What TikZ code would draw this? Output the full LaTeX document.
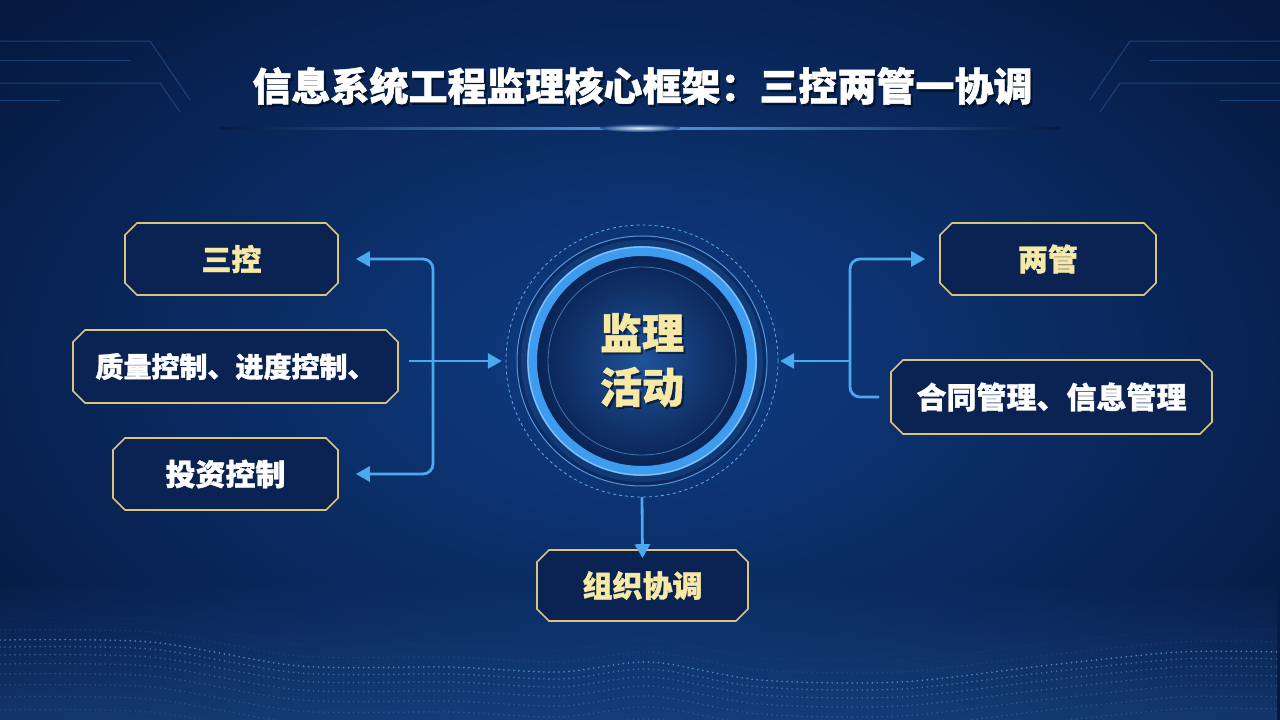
\documentclass[tikz,border=0pt]{standalone}
\usepackage{fontspec}
\setmainfont{Noto Sans CJK SC}[BoldFeatures={FakeBold=1.2}]
\usetikzlibrary{shapes.misc,arrows.meta,calc,fadings}
\definecolor{bgC}{HTML}{0F3D84}
\definecolor{bgE}{HTML}{061940}
\definecolor{gold}{HTML}{DCC47C}
\definecolor{boxfill}{HTML}{0A2353}
\definecolor{yel}{HTML}{F7E8A6}
\definecolor{arrblue}{HTML}{4BA9EF}
\definecolor{ringblue}{HTML}{3D9CF0}
\definecolor{thinblue}{HTML}{5FAAEE}
\definecolor{deco}{HTML}{2E6FC0}
\begin{document}
\begin{tikzpicture}[x=1pt,y=-1pt,
  box/.style={chamfered rectangle, chamfered rectangle xsep=6pt, chamfered rectangle ysep=6pt,
    draw=gold, line width=1.6pt, fill=boxfill, inner sep=0pt,
    font=\bfseries\fontsize{30}{36}\selectfont},
  ybox/.style={box, text=yel},
  wbox/.style={box, text=white},
  arr/.style={draw=arrblue, line width=2.8pt, -{Triangle[width=15pt,length=14pt]}},
  lin/.style={draw=arrblue, line width=2.8pt},
  decoline/.style={draw=deco, line width=1pt, opacity=0.45},
  dotrow/.style={draw=thinblue, line width=1.8pt, line cap=round, dash pattern=on 0.01pt off 5pt}
]
% background
\useasboundingbox (0,0) rectangle (1280,720);
\shade[inner color=bgC, outer color=bgE] (-200,-150) rectangle (1480,870);
% bottom haze
\fill[deco, path fading=north, opacity=0.35] (0,580) rectangle (1280,720);
% bottom dotted wave surface
\foreach \s/\o in {0/0.75, 7/0.5, 15/0.42, 24/0.36, 34/0.3, 45/0.26, 57/0.22, 70/0.18}{
  \draw[dotrow, opacity=\o, yshift=-\s pt] plot[smooth] coordinates {(0,640) (150,642) (300,666) (450,667) (560,672) (650,662) (760,680) (900,682) (1050,665) (1180,652) (1280,652)};
}
\foreach \s/\o in {-10/0.15, -22/0.08}{
  \draw[dotrow, opacity=\o, yshift=-\s pt] plot[smooth] coordinates {(0,640) (150,642) (300,666) (450,667) (560,672) (650,662) (760,680) (900,682) (1050,665) (1180,652) (1280,652)};
}
% top corner decoration
\draw[decoline] (0,41) -- (150,41) -- (190,100);
\draw[decoline] (0,60) -- (130,60);
\draw[decoline] (0,83) -- (160,83) -- (180,112);
\draw[decoline] (0,100) -- (60,100);
\draw[decoline] (1280,41) -- (1130,41) -- (1090,100);
\draw[decoline] (1280,60) -- (1150,60);
\draw[decoline] (1280,83) -- (1120,83) -- (1100,112);
\draw[decoline] (1280,100) -- (1220,100);
% title glow line
\shade[left color=bgE, right color=bgE, middle color=thinblue, opacity=0.9] (220,127) rectangle (1060,129.5);
\shade[inner color=white, outer color=bgC, opacity=0.8] (640,128) ellipse (40pt and 4pt);
% title
\node[font=\bfseries\fontsize{39}{44}\selectfont, text=black, opacity=0.45] at (644.5,88.5) {信息系统工程监理核心框架：三控两管一协调};
\node[font=\bfseries\fontsize{39}{44}\selectfont, text=white] (title) at (642.5,86) {信息系统工程监理核心框架：三控两管一协调};

% central circle
\node[circle, minimum size=272pt, inner sep=0pt] (core) at (642,361) {};
\fill[boxfill, opacity=0.6] (core.center) circle (125pt);
\draw[thinblue, line width=0.8pt, dash pattern=on 3pt off 3pt] (core.center) circle (136pt);
\draw[thinblue, line width=1pt, opacity=0.85] (core.center) circle (125pt);
\draw[ringblue, line width=22pt, opacity=0.15] (core.center) circle (110pt);
\shade[inner color=bgC!80!thinblue, outer color=boxfill] (core.center) circle (106pt);
\draw[ringblue, line width=10pt] (core.center) circle (110pt);
\draw[thinblue!60!white, line width=1.2pt, opacity=0.8] (core.center) circle (114pt);
\draw[thinblue, line width=0.8pt, opacity=0.6] (core.center) circle (94pt);
\node[align=center, font=\bfseries\fontsize{42}{54}\selectfont, text=black, opacity=0.45] at (644,362) {监理\\活动};
\node[align=center, font=\bfseries\fontsize{42}{54}\selectfont, text=yel] (ctext) at (642,360) {监理\\活动};

% boxes
\node[ybox, minimum width=213pt, minimum height=72pt] (sk) at (231.5,259) {三控};
\node[wbox, minimum width=325pt, minimum height=73pt, font=\bfseries\fontsize{28}{34}\selectfont] (zl) at (235.5,366.5) {质量控制、进度控制、};
\node[wbox, minimum width=225pt, minimum height=72pt] (tz) at (225.5,474) {投资控制};
\node[ybox, minimum width=216pt, minimum height=72pt] (lg) at (1048,259) {两管};
\node[wbox, minimum width=321pt, minimum height=74pt] (ht) at (1051.5,397) {合同管理、信息管理};
\node[ybox, minimum width=211pt, minimum height=71pt] (zx) at (642.5,585.5) {组织协调};

% connectors left
\coordinate (lv) at (433,361);
\draw[arr, rounded corners=10pt] (lv) |- ([xshift=17pt]sk.east);
\draw[arr, rounded corners=10pt] (lv) |- ([xshift=17pt]tz.east);
\draw[arr] ([xshift=10pt]zl.east |- lv) -- ([xshift=-4pt]core.west);
% connectors right
\coordinate (rv) at (850,361);
\draw[arr, rounded corners=10pt] (rv) |- ([xshift=-14pt]lg.west);
\draw[lin, rounded corners=10pt] (rv) |- ([xshift=-11pt]ht.west);
\draw[arr] (rv) -- ([xshift=2pt]core.east);
% down
\draw[arr] (core.south) -- ([yshift=-9pt]zx.north);
\end{tikzpicture}
\end{document}
